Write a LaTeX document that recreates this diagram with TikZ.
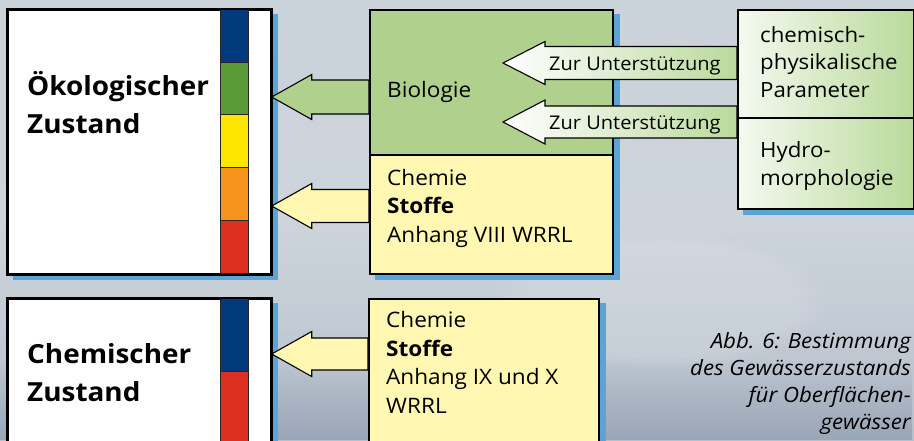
\documentclass[tikz,border=0pt]{standalone}
\usepackage{fontspec}
\setmainfont[FakeStretch=1.06]{Open Sans}
\usetikzlibrary{calc,fadings}
\definecolor{bgtop}{HTML}{CAD2DA}
\definecolor{bgmid}{HTML}{CDD4DB}
\definecolor{bgbot}{HTML}{B6C0CB}
\definecolor{bgdark}{HTML}{9AA7B8}
\definecolor{shblue}{HTML}{5AA5D6}
\definecolor{biogreen}{HTML}{B0D08E}
\definecolor{chemyellow}{HTML}{FFF7B2}
\definecolor{rgreen}{HTML}{B9DA9B}
\definecolor{cblue}{HTML}{003A7D}
\definecolor{cgreen}{HTML}{5B9B37}
\definecolor{cyellow}{HTML}{FFE600}
\definecolor{corange}{HTML}{F7941E}
\definecolor{cred}{HTML}{DC3020}
\pgfdeclarelayer{bg}
\pgfdeclarelayer{shadow}
\pgfsetlayers{bg,shadow,main}
% block arrow: #1 style, #2 tip coordinate, #3 tail coordinate, #4 head length, #5 head half height, #6 shaft half height
\newcommand\blockarr[6]{%
  \path[#1] (#2) -- ($(#2)+(#4,-#5)$) -- ($(#2)+(#4,-#6)$) -- ($(#3)+(0,-#6)$)
    -- ($(#3)+(0,#6)$) -- ($(#2)+(#4,#6)$) -- ($(#2)+(#4,#5)$) -- cycle;}
\tikzset{
  box/.style={draw=black, line width=1.7pt, rectangle, inner sep=0pt, anchor=north west},
  bar/.style={draw=black!85, line width=0.9pt},
  arr/.style={draw=black, line width=1.1pt, line join=miter},
  arrshadow/.style={fill=shblue},
  bigtxt/.style={font=\fontsize{26.3}{38}\selectfont\bfseries, align=left, anchor=base west, inner sep=0pt},
  txt/.style={font=\fontsize{21.3}{28.5}\selectfont, align=left, anchor=base west, inner sep=0pt},
  rtxt/.style={font=\fontsize{21}{27.5}\selectfont, align=left, anchor=base west, inner sep=0pt},
  zurtxt/.style={font=\fontsize{18.9}{22}\selectfont, anchor=base west, inner sep=0pt},
  captxt/.style={font=\fontsize{21}{27}\selectfont\itshape, align=right, anchor=base east, inner sep=0pt},
}
\begin{document}
\begin{tikzpicture}[x=1pt,y=-1pt]
\useasboundingbox (0,0) rectangle (914,440);
\clip (0,0) rectangle (914,440);
% boxes
\node[box, fill=white, minimum width=263pt, minimum height=264pt] (oek) at (7,9) {};
\node[box, fill=white, minimum width=263pt, minimum height=160pt] (chz) at (7,298) {};
\node[box, fill=biogreen, minimum width=243pt, minimum height=145pt] (bio) at (369,9) {};
\node[box, fill=chemyellow, minimum width=243pt, minimum height=119pt] (chem) at (369,154) {};
\node[box, fill=chemyellow, minimum width=230pt, minimum height=160pt] (chem2) at (368,298) {};
\node[box, left color=white!85!rgreen, right color=rgreen, minimum width=176pt, minimum height=108pt] (cpp) at (737,9) {};
\node[box, left color=white!85!rgreen, right color=rgreen, minimum width=176pt, minimum height=91pt] (hym) at (737,117) {};
% colour bars
\draw[bar, fill=cblue]   (220,9)   rectangle (248,62);
\draw[bar, fill=cgreen]  (220,62)  rectangle (248,114);
\draw[bar, fill=cyellow] (220,114) rectangle (248,167);
\draw[bar, fill=corange] (220,167) rectangle (248,220);
\draw[bar, fill=cred]    (220,220) rectangle (248,273);
\draw[bar, fill=cblue]   (220,298) rectangle (248,371);
\draw[bar, fill=cred]    (220,371) rectangle (248,460);
\draw[line width=1.7pt] (oek.north west) rectangle (oek.south east);
\draw[line width=1.7pt] (chz.north west) rectangle (chz.south east);
% arrow coordinates
\coordinate (t1) at (oek.east |- 0,97);   \coordinate (s1) at (bio.west |- 0,97);
\coordinate (t2) at (oek.east |- 0,206);  \coordinate (s2) at (chem.west |- 0,206);
\coordinate (t3) at (chz.east |- 0,354);  \coordinate (s3) at (chem2.west |- 0,354);
\coordinate (t4) at (503,63);             \coordinate (s4) at (cpp.west |- 0,63);
\coordinate (t5) at (503,122);            \coordinate (s5) at (hym.west |- 0,122);
% shadows
\begin{pgfonlayer}{shadow}
  \foreach \n in {oek,chz,bio,chem,chem2,cpp,hym}{
    \fill[shblue] ($(\n.north west)+(6,5)$) rectangle ($(\n.south east)+(6,5)$);}
  \begin{scope}[shift={(4,4)}]
    \blockarr{arrshadow}{t1}{s1}{40}{22.5}{17}
    \blockarr{arrshadow}{t2}{s2}{40}{22.5}{16.5}
    \blockarr{arrshadow}{t3}{s3}{40}{22.5}{16}
    \blockarr{arrshadow}{t4}{s4}{42}{21.5}{16.5}
    \blockarr{arrshadow}{t5}{s5}{42}{22}{16}
  \end{scope}
\end{pgfonlayer}
% background
\begin{pgfonlayer}{bg}
  \fill[top color=bgtop, bottom color=bgbot, middle color=bgmid] (0,0) rectangle (914,440);
  \fill[bgdark, path fading=north] (0,360) rectangle (914,440);
  \fill[white, opacity=0.12, path fading=circle with fuzzy edge 20 percent] (660,300) ellipse (170 and 70);
\end{pgfonlayer}
% arrows
\blockarr{arr, fill=biogreen}{t1}{s1}{40}{22.5}{17}
\blockarr{arr, fill=chemyellow}{t2}{s2}{40}{22.5}{16.5}
\blockarr{arr, fill=chemyellow}{t3}{s3}{40}{22.5}{16}
\blockarr{arr, left color=white, right color=rgreen}{t4}{s4}{42}{21.5}{16.5}
\blockarr{arr, left color=white, right color=rgreen}{t5}{s5}{42}{22}{16}
% texts (anchor = baseline of last line)
\node[bigtxt] (oektxt) at (27,133) {Ökologischer\\Zustand};
\node[bigtxt] (chztxt) at (27,401) {Chemischer\\Zustand};
\node[txt] (biotxt) at (387,97) {Biologie};
\node[txt] (chemtxt) at (387,242) {Chemie\\\textbf{Stoffe}\\Anhang VIII WRRL};
\node[txt] (chem2txt) at (386,413) {Chemie\\\textbf{Stoffe}\\Anhang IX und X\\WRRL};
\node[rtxt] (cpptxt) at (760,97) {chemisch-\\physikalische\\Parameter};
\node[rtxt] (hymtxt) at (760,185) {Hydro-\\morphologie};
\node[zurtxt] (z1) at (549,70) {Zur Unterstützung};
\node[zurtxt] (z2) at (549,129) {Zur Unterstützung};
\node[captxt] (cap) at (911,429) {Abb. 6: Bestimmung\\des Gewässerzustands\\für Oberflächen-\\gewässer};
\end{tikzpicture}
\end{document}
